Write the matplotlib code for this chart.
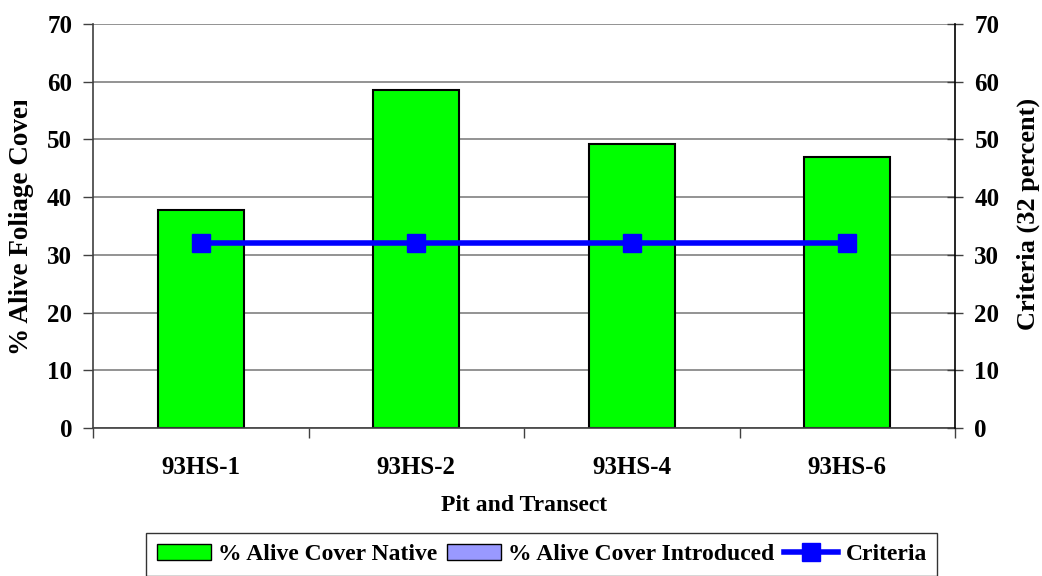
import matplotlib
matplotlib.use('Agg')
import matplotlib.pyplot as plt
from matplotlib.patches import Patch
from matplotlib.lines import Line2D
from matplotlib.transforms import Bbox

# data
pits = ["93HS-1", "93HS-2", "93HS-4", "93HS-6"]
native = [37.8, 58.6, 49.2, 47.0]
criteria = [32, 32, 32, 32]

plt.rcParams['font.family'] = 'Liberation Serif'
plt.rcParams['font.weight'] = 'bold'

fig = plt.figure(figsize=(10.42, 5.76), dpi=100)
ax = fig.add_axes([0.0893, 0.2569, 0.8272, 0.7014])
x = list(range(len(pits)))

ax.bar(x, native, width=0.4, color="#00FF00", edgecolor="black", linewidth=1.5, zorder=2)
ax.plot(x, criteria, color="#0000FF", linewidth=4, marker="s", markersize=13, zorder=3)

ax.set_xlim(-0.5, len(pits) - 0.5)
ax.set_ylim(0, 70)
ax.set_yticks(range(0, 71, 10))
ax.yaxis.grid(True, color="#808080", linewidth=1.2, zorder=0)
ax.set_axisbelow(True)

ax.set_xticks(x)
ax.set_xticklabels(pits)
ax.set_xticks([i - 0.5 for i in range(len(pits) + 1)], minor=True)
ax.tick_params(axis='x', which='major', length=0, pad=20, labelsize=18)
ax.tick_params(axis='x', which='minor', length=7, width=1, color="#404040")
ax.tick_params(axis='y', length=7, width=1, color="#404040", labelsize=18, pad=8)

for s in ['top', 'right']:
    ax.spines[s].set_visible(False)
ax.spines['left'].set_color("#404040")
ax.spines['bottom'].set_color("#404040")
ax.spines['left'].set_linewidth(1.2)
ax.spines['bottom'].set_linewidth(1.2)

ax.set_xlabel("Pit and Transect", fontsize=17, fontweight='bold', labelpad=12)
yl = ax.set_ylabel("% Alive Foliage Cover", fontsize=19.5, fontweight='bold')
ax.yaxis.set_label_coords(-0.069, 0.505)

ax2 = ax.twinx()
ax2.set_ylim(0, 70)
ax2.set_yticks(range(0, 71, 10))
ax2.tick_params(axis='y', direction='inout', length=12, width=1, color="#404040", labelsize=18, pad=8)
for s in ['top', 'left', 'bottom']:
    ax2.spines[s].set_visible(False)
ax2.spines['right'].set_color("black")
ax2.spines['right'].set_linewidth(1.2)
ax2.set_ylabel("Criteria (32 percent)", fontsize=19, fontweight='bold')
ax2.yaxis.set_label_coords(1.072, 0.53)

handles = [
    Patch(facecolor="#00FF00", edgecolor="black", label="% Alive Cover Native"),
    Patch(facecolor="#9999FF", edgecolor="black", label="% Alive Cover Introduced"),
    Line2D([0], [0], color="#0000FF", linewidth=4, marker="s", markersize=13, label="Criteria"),
]
fig.legend(handles=handles, loc='lower center', bbox_to_anchor=(0.52, -0.02), ncol=3,
           frameon=True, fancybox=False, edgecolor="black", fontsize=17,
           handlelength=2.3, handletextpad=0.3, columnspacing=0.4, borderpad=0.45)

# the original y label is cut off at the top
yl.set_clip_box(Bbox([[0, 0], [1042, 576 - 101]]))
yl.set_clip_on(True)

fig.savefig("out.png", dpi=100)
